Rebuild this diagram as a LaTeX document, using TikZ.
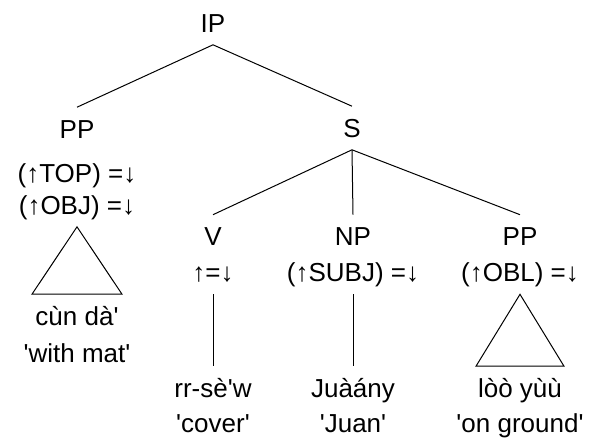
\documentclass[tikz,border=0pt]{standalone}
\usepackage{fontspec}
\setmainfont{Liberation Sans}
\newcommand{\sq}{\textquotesingle}
\begin{document}
\begin{tikzpicture}[x=1pt, y=-1pt, line width=1pt,
		every node/.style={font=\fontsize{26}{30}\selectfont, text height=18.6pt, text depth=0pt, inner xsep=0pt, inner ysep=12pt}]
		\useasboundingbox (0,0) rectangle (592,440);
		% categories
		\node (ip) at (213,23) {IP};
		\node (pp1) at (77,129) {PP};
		\node (s) at (352,128) {S};
		\node (v) at (213,236.5) {V};
		\node (np) at (353,236.5) {NP};
		\node (pp2) at (520,236.5) {PP};
		% annotations
		\node (top) at (77,173.5) {(↑TOP) =↓};
		\node (obj) at (77,205) {(↑OBJ) =↓};
		\node (vann) at (213,272.5) {↑=↓};
		\node (subj) at (353,272.5) {(↑SUBJ) =↓};
		\node (obl) at (520,272.5) {(↑OBL) =↓};
		% words
		\node (cun) at (77,316) {cùn dà\sq};
		\node (cung) at (77,353) {\sq with mat\sq};
		\node (rrsew) at (213,388) {rr-sè\sq w};
		\node (rrsewg) at (213,423) {\sq cover\sq};
		\node (juany) at (353,388) {Juàány};
		\node (juanyg) at (353,423) {\sq Juan\sq};
		\node (loo) at (520,388) {lòò yùù};
		\node (loog) at (520,423) {\sq on ground\sq};
		\path
		(ip.south) edge (pp1.north) edge (s.north)
		(s.south) edge (v.north) edge (np.north) edge (pp2.north)
		(vann.south) edge (rrsew.north)
		(subj.south) edge (juany.north);
		\draw (obj.south) -- ([xshift=-45pt]cun.north) -- ([xshift=45pt]cun.north) -- cycle;
		\draw (obl.south) -- ([xshift=-44pt]loo.north) -- ([xshift=44pt]loo.north) -- cycle;
	\end{tikzpicture}
\end{document}
